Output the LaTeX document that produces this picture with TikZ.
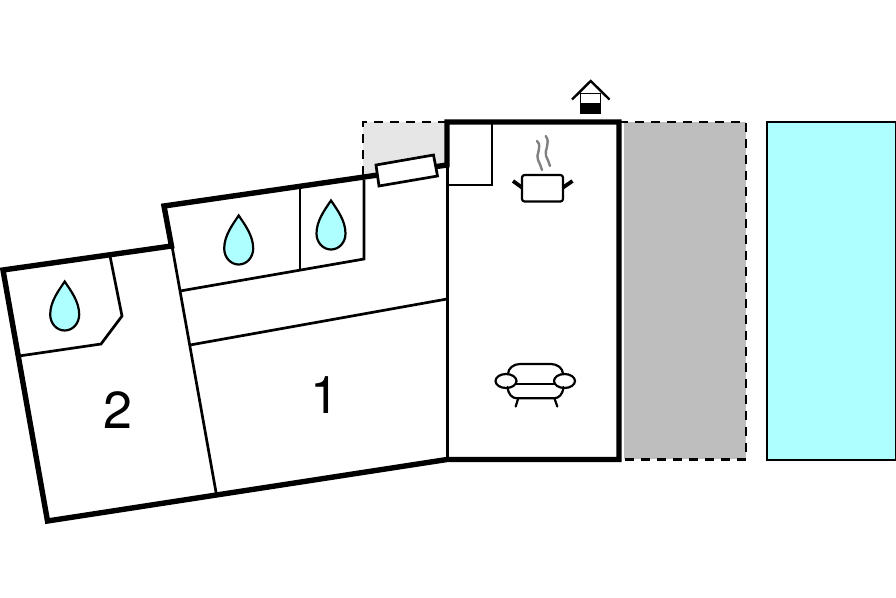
\documentclass[tikz,border=0pt]{standalone}
\usepackage{fontspec}
\setmainfont{TeX Gyre Heros}
\definecolor{aqua}{HTML}{AEFFFF}
\definecolor{terrace}{HTML}{BEBEBE}
\definecolor{yard}{HTML}{E6E6E6}
\tikzset{
  thinwall/.style={line width=2.7pt,line join=miter},
  thickwall/.style={line width=5.4pt,line join=miter},
  fence/.style={line width=2.8pt,dash pattern=on 9pt off 7pt},
  icon/.style={line width=2.2pt,line join=round,line cap=round},
  droplet/.style={line width=2.2pt,fill=aqua,line join=miter},
  roomlabel/.style={font=\fontsize{52}{52}\selectfont,inner sep=0pt,text=black}
}
\newcommand{\dropshape}[3]{%
  \draw[droplet] (#1,#2) .. controls (#1+6,#2+9) and (#1+14.5,#2+20) .. (#1+14.5,#2+33)
    .. controls (#1+14.5,#2+42) and (#1+8,#2+#3) .. (#1,#2+#3)
    .. controls (#1-8,#2+#3) and (#1-14.5,#2+42) .. (#1-14.5,#2+33)
    .. controls (#1-14.5,#2+20) and (#1-6,#2+9) .. (#1,#2) -- cycle;}
\begin{document}
\begin{tikzpicture}[x=1pt,y=-1pt]
\useasboundingbox (0,0) rectangle (896,597);
% outdoor areas
\fill[yard] (363,122) -- (447,122) -- (447,165) -- (363,177) -- cycle;
\draw[fence] (447,122) -- (363,122) -- (363,177);
\fill[terrace] (624,122) rectangle (746,459);
\draw[fence] (619,122) -- (746,122) -- (746,459);
\draw[fence] (746,459.5) -- (619,459.5);
\draw[line width=1.8pt,fill=aqua] (767,122) rectangle (896,460);
% inner walls
\draw[thinwall] (172,246) -- (216.5,495);
\draw[thinwall] (180,291) -- (364,259) -- (364,180);
\draw[thinwall] (300,188) -- (300,270);
\draw[thinwall] (190,345) -- (447,299);
\draw[thinwall] (447.5,122) -- (447.5,459);
\draw[thinwall] (447,185) -- (492,185) -- (492,122);
\draw[thinwall] (110,256) -- (122,316) -- (101,344) -- (19,356);
% outer walls
\draw[thickwall] (3,270) -- (171.5,246) -- (164,206) -- (447,165) -- (447,122) -- (619,122) -- (619,459.5) -- (447,459.5) -- (47.5,521) -- cycle;
% window
\draw[thinwall,fill=white] (376,165) -- (433.5,155) -- (437.5,176) -- (379,186) -- cycle;
% drops
\dropshape{238.7}{215.5}{49}
\dropshape{331}{200.5}{49}
\dropshape{64.7}{281.5}{49}
% pot
\draw[gray,line width=2.4pt,line cap=round] (537,141) .. controls (543,147) and (535,155) .. (538,160) .. controls (540,164) and (541,167) .. (542,170);
\draw[gray,line width=2.4pt,line cap=round] (545.7,136) .. controls (551,143) and (544,150) .. (546,156) .. controls (548,160) and (549,163) .. (550,166);
\draw[icon,rounded corners=2.5pt] (522,175) -- (522,201.5) -- (563,201.5) -- (563,175) -- cycle;
\draw[line width=3.8pt] (513,181) -- (522,187.5);
\draw[line width=3.8pt] (572.5,181) -- (563,187.5);
% sofa
\draw[icon] (508,374) .. controls (508,368) and (514,364) .. (520,364) -- (551,364) .. controls (557,364) and (563,368) .. (563,374);
\draw[icon] (515.7,384.3) -- (555,384.3);
\draw[icon] (507.5,387) .. controls (508,394) and (512,398.3) .. (517,398.3) -- (554,398.3) .. controls (559,398.3) and (563,394) .. (563.5,387);
\draw[icon] (518,399) -- (515.7,406.5);
\draw[icon] (554.7,399) -- (557.3,406.5);
\draw[icon] (506,381) ellipse [x radius=10.5,y radius=7];
\draw[icon] (564.5,381) ellipse [x radius=10.5,y radius=7];
% well
\fill[black] (580,103) rectangle (601,114);
\draw[line width=1.8pt] (580.5,103) |- (600.5,93.5) -- (600.5,103);
\draw[line width=2.4pt,line join=miter] (572,99.5) -- (590.7,81) -- (609.5,99.5);
% labels
\node[roomlabel] (room1) at (324.5,395.5) {1};
\node[roomlabel] (room2) at (118,410.5) {2};
\end{tikzpicture}
\end{document}
